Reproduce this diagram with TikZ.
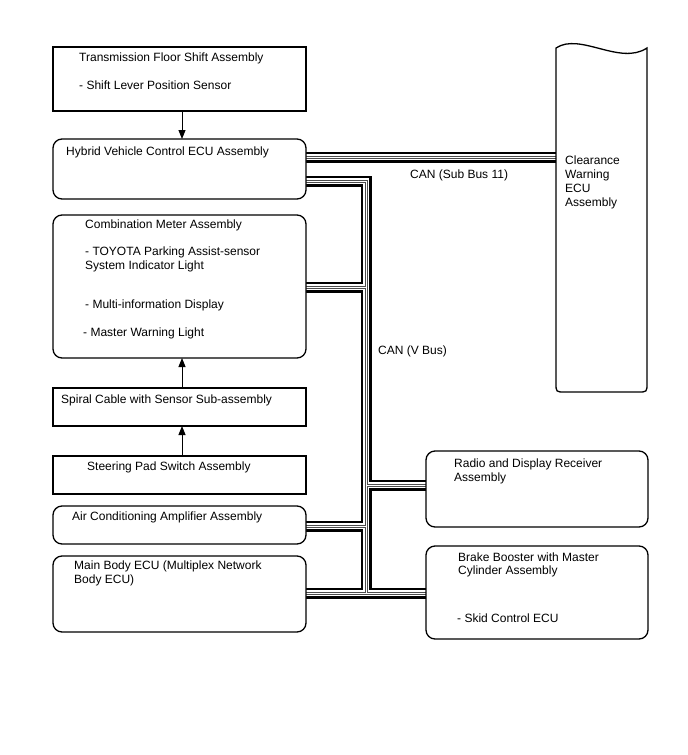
\documentclass[tikz,border=0pt]{standalone}
\usepackage{fontspec}
\setmainfont{Liberation Sans}
\usetikzlibrary{arrows.meta,backgrounds}
\begin{document}
\begin{tikzpicture}[x=1pt,y=-1pt,
  box/.style={draw, line width=1.3pt, fill=white, inner sep=0pt, outer sep=0pt, anchor=north west},
  rbox/.style={box, rounded corners=9pt},
  txt/.style={anchor=base west, inner sep=0pt, font=\fontsize{12}{14}\selectfont},
  arr/.style={line width=1pt, -{Triangle[width=7pt,length=9pt]}},
]
\useasboundingbox (0,0) rectangle (688,755);

% boxes
\node[box,  minimum width=253pt, minimum height=64pt]  (tfs) at (53,47) {};
\node[rbox, minimum width=253pt, minimum height=60pt]  (hv)  at (53,139) {};
\node[rbox, minimum width=253pt, minimum height=143pt] (cm)  at (53,215) {};
\node[box,  minimum width=253pt, minimum height=38pt]  (sc)  at (53,388) {};
\node[box,  minimum width=253pt, minimum height=38pt]  (sp)  at (53,456) {};
\node[rbox, minimum width=253pt, minimum height=38pt]  (ac)  at (53,506) {};
\node[rbox, minimum width=253pt, minimum height=76pt]  (mb)  at (53,556) {};
\node[rbox, minimum width=222pt, minimum height=76pt]  (rd)  at (426,451) {};
\node[rbox, minimum width=222pt, minimum height=93pt]  (bb)  at (426,546) {};

% clearance warning ECU (wavy top)
\draw[line width=1.3pt, fill=white] (647,48) .. controls (620,66) and (580,32) .. (556,48)
  -- (556,383) .. controls (556,392) .. (565,392) -- (638,392)
  .. controls (647,392) .. (647,383) -- cycle;
\coordinate (cw) at (556,157);

% junction coordinates
\coordinate (jtop) at (366,181);
\coordinate (jcm)  at (366,287);
\coordinate (jrd)  at (366,485);
\coordinate (jac)  at (366,526);
\coordinate (jbot) at (366,593);

\newcommand\canbuspath{
  (hv.east |- cw) -- (cw)
  (hv.east |- jtop) -- (jtop) -- (jbot)
  (cm.east |- jcm) -- (jcm)
  (jrd) -- (rd.west |- jrd)
  (ac.east |- jac) -- (jac)
  (mb.east |- jbot) -- (bb.west |- jbot)
}
\begin{pgfonlayer}{background}
  \fill[white] (0,0) rectangle (688,755);
  \foreach \w/\c in {11/black,6/white,3/black!70,1/white}
    \draw[line width=\w pt, color=\c, line join=miter] \canbuspath;
\end{pgfonlayer}

% arrows
\draw[arr] ([xshift=2.5pt]tfs.south) -- ([xshift=2.5pt]hv.north);
\draw[arr] ([xshift=2.5pt]sc.north) -- ([xshift=2.5pt]cm.south);
\draw[arr] ([xshift=2.5pt]sp.north) -- ([xshift=2.5pt]sc.south);

% texts
\node[txt] (t1) at (79,61) {Transmission Floor Shift Assembly};
\node[txt] (t2) at (79,89) {- Shift Lever Position Sensor};
\node[txt] (t3) at (66,155) {Hybrid Vehicle Control ECU Assembly};
\node[txt] (t4) at (85,228) {Combination Meter Assembly};
\node[txt] (t5) at (85,255) {- TOYOTA Parking Assist-sensor};
\node[txt] (t6) at (85,269) {System Indicator Light};
\node[txt] (t7) at (85,308) {- Multi-information Display};
\node[txt] (t8) at (83,336) {- Master Warning Light};
\node[txt] (t9) at (61,403) {Spiral Cable with Sensor Sub-assembly};
\node[txt] (t10) at (87,470) {Steering Pad Switch Assembly};
\node[txt] (t11) at (72,520) {Air Conditioning Amplifier Assembly};
\node[txt] (t12) at (74,569) {Main Body ECU (Multiplex Network};
\node[txt] (t13) at (74,583) {Body ECU)};
\node[txt] (t14) at (454,467) {Radio and Display Receiver};
\node[txt] (t15) at (454,481) {Assembly};
\node[txt] (t16) at (458,561) {Brake Booster with Master};
\node[txt] (t17) at (458,574) {Cylinder Assembly};
\node[txt] (t18) at (457,622) {- Skid Control ECU};
\node[txt] (t19) at (565,164) {Clearance};
\node[txt] (t20) at (565,178) {Warning};
\node[txt] (t21) at (565,192) {ECU};
\node[txt] (t22) at (565,206) {Assembly};
\node[txt] (l1) at (410,178) {CAN (Sub Bus 11)};
\node[txt] (l2) at (378,354) {CAN (V Bus)};
\end{tikzpicture}
\end{document}
